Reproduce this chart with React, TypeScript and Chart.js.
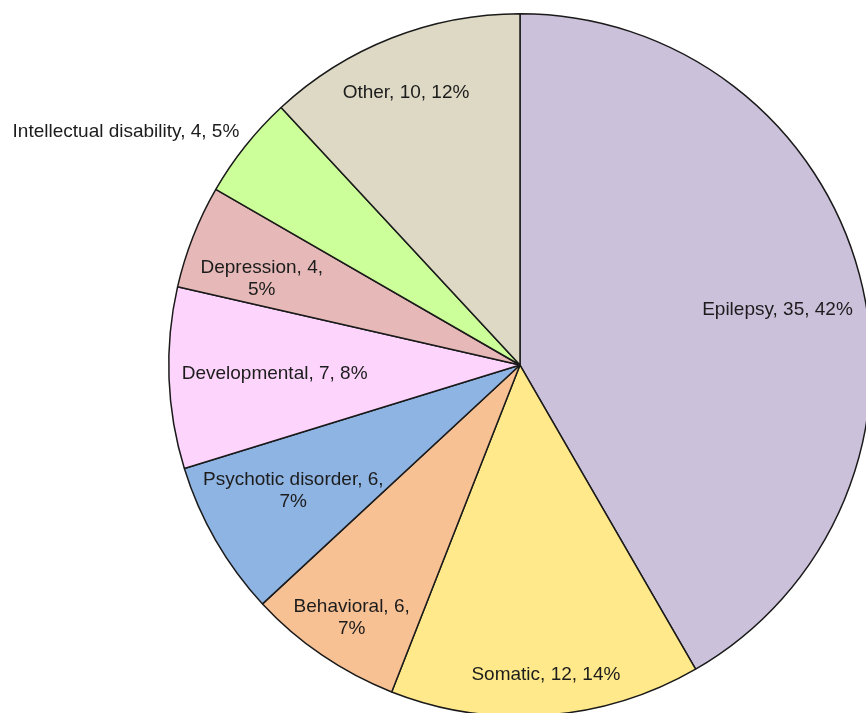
import React, { useEffect, useRef } from "react";
import { Chart, registerables } from "chart.js";

Chart.register(...registerables);

const categories = [
  "Epilepsy",
  "Somatic",
  "Behavioral",
  "Psychotic disorder",
  "Developmental",
  "Depression",
  "Intellectual disability",
  "Other",
];
const counts = [35, 12, 6, 6, 7, 4, 4, 10];
const sliceColors = [
  "#CCC1DB",
  "#FFE98A",
  "#F8C194",
  "#8EB4E3",
  "#FDD5FC",
  "#E6B9B8",
  "#CCFF99",
  "#DDD9C4",
];
// labels that wrap onto two lines (after the count)
const wrappedLabels = ["Behavioral", "Psychotic disorder", "Depression"];

// label placement: radius fraction and angle delta (degrees) from slice mid-angle
const labelPlacement = [
  { r: 0.75, da: 2.8 },
  { r: 0.884, da: -0.5 },
  { r: 0.864, da: -0.6 },
  { r: 0.738, da: 1.0 },
  { r: 0.699, da: 0.2 },
  { r: 0.775, da: -3.0 },
  { r: 1.303, da: -8.0 },
  { r: 0.84, da: -1.3 },
];

const sliceLabelPlugin = {
  id: "sliceLabels",
  afterDatasetsDraw(chart: any) {
    const ctx = chart.ctx;
    const meta = chart.getDatasetMeta(0);
    const data = chart.data.datasets[0].data as number[];
    const total = data.reduce((a: number, b: number) => a + b, 0);
    ctx.save();
    ctx.font = '19px "Liberation Sans", Arial, sans-serif';
    ctx.fillStyle = "#1c1c1c";
    ctx.textAlign = "center";
    ctx.textBaseline = "middle";
    meta.data.forEach((arc: any, i: number) => {
      const { x, y, startAngle, endAngle, outerRadius } = arc.getProps(
        ["x", "y", "startAngle", "endAngle", "outerRadius"],
        true
      );
      const p = labelPlacement[i];
      const mid = (startAngle + endAngle) / 2 + (p.da * Math.PI) / 180;
      const cx = x + Math.cos(mid) * outerRadius * p.r;
      const cy = y + Math.sin(mid) * outerRadius * p.r;
      const name = chart.data.labels[i];
      const v = data[i];
      const pct = Math.round((v / total) * 100);
      let lines: string[];
      if (wrappedLabels.includes(name)) {
        lines = [`${name}, ${v},`, `${pct}%`];
      } else {
        lines = [`${name}, ${v}, ${pct}%`];
      }
      const lh = 22;
      const y0 = cy - ((lines.length - 1) * lh) / 2;
      lines.forEach((t, k) => ctx.fillText(t, cx, y0 + k * lh));
    });
    ctx.restore();
  },
};

export default function App() {
  const ref = useRef<HTMLCanvasElement | null>(null);
  useEffect(() => {
    if (!ref.current) return;
    const chart = new Chart(ref.current, {
      type: "pie",
      data: {
        labels: categories,
        datasets: [
          {
            data: counts,
            backgroundColor: sliceColors,
            borderColor: "#1a1a1a",
            borderWidth: 1.5,
          },
        ],
      },
      options: {
        responsive: false,
        animation: false,
        devicePixelRatio: 1,
        layout: { padding: { left: 168, right: 8, top: 13, bottom: 3 } },
        plugins: {
          legend: { display: false },
          tooltip: { enabled: false },
        },
      },
      plugins: [sliceLabelPlugin],
    });
    return () => chart.destroy();
  }, []);
  return (
    <div
      style={{
        position: "absolute",
        left: 0,
        top: 0,
        width: 866,
        height: 713,
        overflow: "hidden",
        background: "#ffffff",
      }}
    >
      <canvas ref={ref} width={880} height={720} style={{ width: 880, height: 720, display: "block" }} />
    </div>
  );
}
